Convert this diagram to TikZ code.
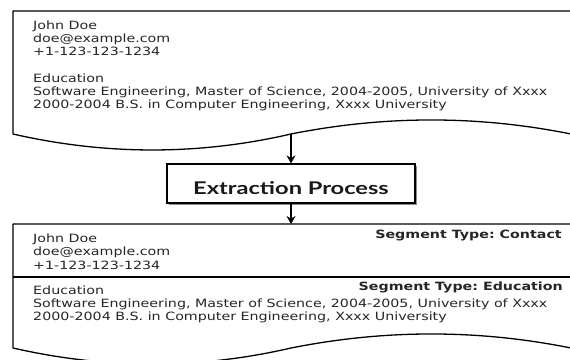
\documentclass[tikz,border=0pt]{standalone}
\usepackage{fontspec}
\newfontfamily\docfont[FakeStretch=1.25]{DejaVu Sans}
\newfontfamily\procfont[FakeStretch=1.35]{Lato}
\usetikzlibrary{arrows.meta}
\frenchspacing
\begin{document}
\begin{tikzpicture}[x=1pt,y=-1pt,
  doc/.style={draw=black, line width=1.3pt, line join=round},
  txt/.style={anchor=base west, inner sep=0pt, font=\frenchspacing\docfont\fontsize{11.4}{13}\selectfont, text=black!85},
  seg/.style={anchor=base east, inner sep=0pt, font=\frenchspacing\docfont\bfseries\fontsize{11.4}{13}\selectfont, text=black!85},
  procbox/.style={draw, line width=1.2pt, minimum width=248pt, minimum height=39pt, inner sep=0pt, fill=white},
  proctext/.style={anchor=base, inner sep=0pt, font=\procfont\bfseries\fontsize{17.5}{20}\selectfont, text=black!90},
  arr/.style={line width=1.2pt, -{Stealth[length=8pt,width=9pt]}}]
\useasboundingbox (0,0) rectangle (570,359);
\clip (0,0) rectangle (570,359);
\fill[white] (0,0) rectangle (570,359);

% top document
\draw[doc] (13,134) -- (13,11) -- (571,11) -- (571,134)
  .. controls (478,115.3) and (385,115.3) .. (291,134)
  .. controls (199,155.3) and (106,155.3) .. (13,134) -- cycle;
\coordinate (docAbot) at (291,134);

\node[txt] (a1) at (33,29) {John Doe};
\node[txt] (a2) at (33,42) {doe@example.com};
\node[txt] (a3) at (33,55) {+1-123-123-1234};
\node[txt] (a4) at (33,82.5) {Education};
\node[txt] (a5) at (33,95.5) {Software Engineering, Master of Science, 2004-2005, University of Xxxx};
\node[txt] (a6) at (33,108) {2000-2004 B.S. in Computer Engineering, Xxxx University};

% process
\fill[black!45] (169,166) rectangle (417,205);
\node[procbox] (proc) at (291,183.5) {};
\node[proctext] (proclabel) at (291,194.3) {Extraction Process};

% bottom document
\draw[doc] (13,348) -- (13,224) -- (571,224) -- (571,348)
  .. controls (478,329.3) and (385,329.3) .. (291,348)
  .. controls (199,369.3) and (106,369.3) .. (13,348) -- cycle;
\coordinate (docBtop) at (291,224);
\coordinate (divL) at (13,277);
\coordinate (divR) at (571,277);
\draw[doc] (divL) -- (divR);

\node[txt] (b1) at (33,242.5) {John Doe};
\node[txt] (b2) at (33,255.5) {doe@example.com};
\node[txt] (b3) at (33,269) {+1-123-123-1234};
\node[txt] (b4) at (33,294) {Education};
\node[txt] (b5) at (33,307.5) {Software Engineering, Master of Science, 2004-2005, University of Xxxx};
\node[txt] (b6) at (33,320.5) {2000-2004 B.S. in Computer Engineering, Xxxx University};
\node[seg] (s1) at (562,238.5) {Segment Type: Contact};
\node[seg] (s2) at (563,290) {Segment Type: Education};

% connectors
\draw[arr] (docAbot) -- (proc.north);
\draw[arr] (proc.south) -- (docBtop);
\end{tikzpicture}
\end{document}
